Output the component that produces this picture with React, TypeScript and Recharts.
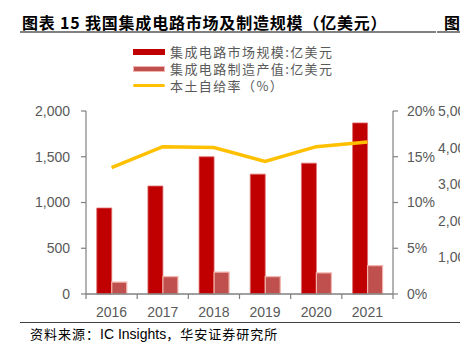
import React from 'react';
import { Bar, ComposedChart, Line, XAxis, YAxis } from 'recharts';

const years = ['2016', '2017', '2018', '2019', '2020', '2021'];
const marketSize = [940, 1180, 1500, 1310, 1430, 1870];
const manufacturing = [130, 190, 240, 190, 230, 310];
const selfSufficiency = [13.8, 16.1, 16.0, 14.5, 16.1, 16.6];

const leftTicks = [0, 500, 1000, 1500, 2000];
const rightTicks = [0, 5, 10, 15, 20];
// cut-off axis of the next figure on the page
const neighbourTicks = ['5,000', '4,000', '3,000', '2,000', '1,000', '0'];

const seriesNames = ['集成电路市场规模:亿美元', '集成电路制造产值:亿美元', '本土自给率（%）'];

const W = 460;
const H = 356;
const PLOT_LEFT = 86;
const PLOT_RIGHT = 393;
const PLOT_TOP = 111;
const PLOT_BOTTOM = 294;
const LEFT_AXIS_W = 60;
const RIGHT_AXIS_W = 50;
const X_AXIS_H = 30;

const MARKET = '#C00000';
const MANU = '#C0504D';
const LINE = '#FFC000';
const AXIS = '#808080';
const TEXT = '#595959';
const FONT = 'Arial, "Liberation Sans", sans-serif';
const CJK = '"Noto Sans CJK SC", sans-serif';

const data = years.map((y, i) => ({
  year: y,
  market: marketSize[i],
  manu: manufacturing[i],
  ratio: selfSufficiency[i],
}));

const TICK_SIZE = 5;
const TICK_MARGIN = 8;

function YearTick(props: any) {
  const { x, y, payload, index } = props;
  const half = (PLOT_RIGHT - PLOT_LEFT) / years.length / 2;
  const axisY = y - TICK_SIZE - TICK_MARGIN;
  return (
    <g>
      <line x1={x - half} x2={x - half} y1={axisY} y2={axisY + TICK_SIZE} stroke={AXIS} strokeWidth={1.2} />
      {index === years.length - 1 && (
        <line x1={x + half} x2={x + half} y1={axisY} y2={axisY + TICK_SIZE} stroke={AXIS} strokeWidth={1.2} />
      )}
      <text x={x} y={y} dy="0.71em" textAnchor="middle" fill={TEXT} fontSize={14} fontFamily={FONT}>
        {payload.value}
      </text>
    </g>
  );
}

const legendItems = [
  { name: seriesNames[0], color: MARKET, h: 6, stroke: 'none' },
  { name: seriesNames[1], color: MANU, h: 6, stroke: '#F2B4AC' },
  { name: seriesNames[2], color: LINE, h: 3, stroke: 'none' },
];

export default function App() {
  return (
    <div
      style={{
        position: 'absolute',
        left: 0,
        top: 0,
        width: W,
        height: H,
        overflow: 'hidden',
        background: '#fff',
        fontFamily: CJK,
      }}
    >
      {/* title */}
      <div
        style={{
          position: 'absolute',
          left: 22,
          top: 11,
          fontSize: 16,
          fontWeight: 700,
          color: '#000',
          whiteSpace: 'nowrap',
          lineHeight: '22px',
          letterSpacing: 0.8,
        }}
      >
        图表 15 我国集成电路市场及制造规模（亿美元）
      </div>
      <div style={{ position: 'absolute', left: 20, top: 31, width: 416, height: 2, background: '#808080' }} />
      <div
        style={{
          position: 'absolute',
          left: 444,
          top: 11,
          fontSize: 16,
          fontWeight: 700,
          color: '#000',
          lineHeight: '22px',
        }}
      >
        图
      </div>
      <div style={{ position: 'absolute', left: 437, top: 31, width: 30, height: 2, background: '#808080' }} />

      {/* legend */}
      {legendItems.map((it, i) => (
        <div
          key={it.name}
          style={{
            position: 'absolute',
            left: 133,
            top: 44 + i * 17.2,
            height: 15,
            display: 'flex',
            alignItems: 'center',
            whiteSpace: 'nowrap',
          }}
        >
          <div
            style={{
              width: 32,
              height: it.h,
              background: it.color,
              border: it.stroke === 'none' ? 'none' : `1px solid ${it.stroke}`,
              boxSizing: 'border-box',
              borderRadius: i === 2 ? 2 : 0,
            }}
          />
          <span style={{ marginLeft: 5, fontSize: 13, lineHeight: '15px', color: TEXT, letterSpacing: 1.4 }}>
            {it.name}
          </span>
        </div>
      ))}

      {/* neighbouring figure's axis, cut by page edge */}
      {neighbourTicks.map((t, i) => (
        <div
          key={t}
          style={{
            position: 'absolute',
            right: W - 473,
            top: PLOT_TOP - 9 + (i * (PLOT_BOTTOM - PLOT_TOP)) / 5,
            fontSize: 14,
            fontFamily: FONT,
            color: TEXT,
            lineHeight: '18px',
          }}
        >
          {t}
        </div>
      ))}

      <div style={{ position: 'absolute', left: 0, top: 0 }}>
        <ComposedChart
          width={W}
          height={H}
          data={data}
          margin={{
            top: PLOT_TOP,
            left: PLOT_LEFT - LEFT_AXIS_W,
            right: W - PLOT_RIGHT - RIGHT_AXIS_W,
            bottom: H - PLOT_BOTTOM - X_AXIS_H,
          }}
          barGap={0}
          barCategoryGap="21%"
        >
          <XAxis
            dataKey="year"
            height={X_AXIS_H}
            axisLine={{ stroke: AXIS, strokeWidth: 1.5 }}
            tickLine={false}
            tickSize={TICK_SIZE}
            tickMargin={TICK_MARGIN}
            tick={<YearTick />}
            interval={0}
          />
          <YAxis
            yAxisId="left"
            width={LEFT_AXIS_W}
            domain={[0, 2000]}
            ticks={leftTicks}
            tickFormatter={(v: number) => v.toLocaleString('en-US')}
            axisLine={{ stroke: AXIS, strokeWidth: 1.2 }}
            tickLine={{ stroke: AXIS, strokeWidth: 1.2 }}
            tickSize={5}
            tickMargin={11}
            tick={{ fill: TEXT, fontSize: 14, fontFamily: FONT }}
          />
          <YAxis
            yAxisId="right"
            orientation="right"
            width={RIGHT_AXIS_W}
            domain={[0, 20]}
            ticks={rightTicks}
            tickFormatter={(v: number) => `${v}%`}
            axisLine={{ stroke: AXIS, strokeWidth: 1.2 }}
            tickLine={{ stroke: AXIS, strokeWidth: 1.2 }}
            tickSize={5}
            tickMargin={9}
            tick={{ fill: TEXT, fontSize: 14, fontFamily: FONT }}
          />
          <Bar
            yAxisId="left"
            dataKey="market"
            name={seriesNames[0]}
            fill={MARKET}
            stroke="#E07070"
            strokeWidth={0.8}
            isAnimationActive={false}
          />
          <Bar
            yAxisId="left"
            dataKey="manu"
            name={seriesNames[1]}
            fill={MANU}
            stroke="#F2B4AC"
            strokeWidth={1.2}
            isAnimationActive={false}
          />
          <Line
            yAxisId="right"
            dataKey="ratio"
            name={seriesNames[2]}
            type="linear"
            stroke={LINE}
            strokeWidth={3.5}
            dot={false}
            isAnimationActive={false}
          />
        </ComposedChart>
      </div>

      {/* source */}
      <div style={{ position: 'absolute', left: 20, top: 322, width: 450, height: 1, background: '#404040' }} />
      <div
        style={{
          position: 'absolute',
          left: 30,
          top: 325,
          fontSize: 13,
          color: '#000',
          whiteSpace: 'nowrap',
          lineHeight: '18px',
          letterSpacing: 1,
        }}
      >
        资料来源：<span style={{ fontFamily: FONT, fontSize: 14, letterSpacing: 0 }}>IC Insights</span>，华安证券研究所
      </div>
    </div>
  );
}
